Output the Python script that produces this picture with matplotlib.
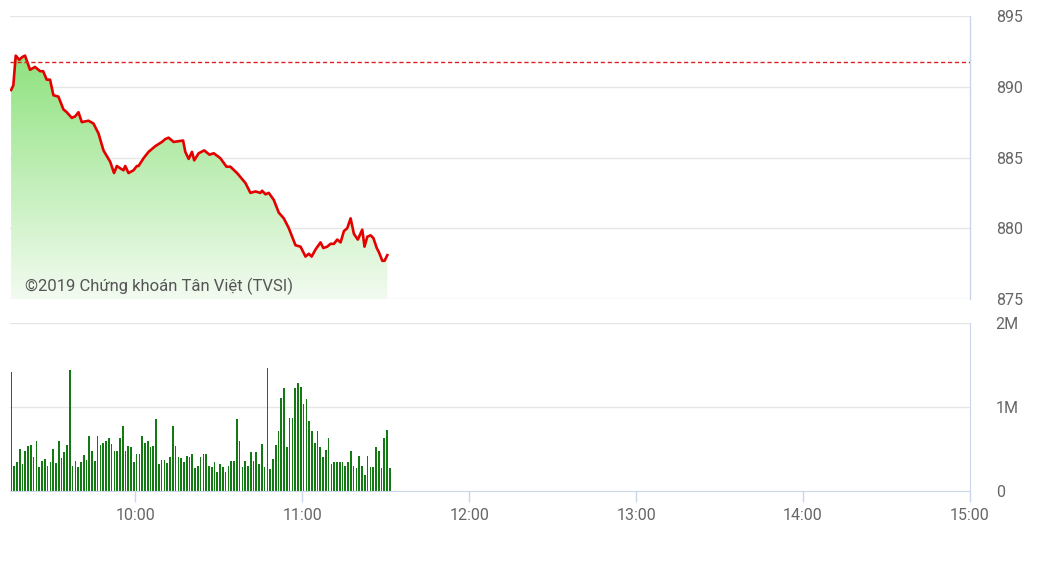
import matplotlib
matplotlib.use("Agg")
import matplotlib.pyplot as plt
import numpy as np
from matplotlib.colors import LinearSegmentedColormap

plt.rcParams["font.family"] = ["Roboto", "DejaVu Sans"]

# ---------------------------------------------------------------------------
# Data (minutes after 09:15)
# ---------------------------------------------------------------------------

price_minutes = [
    0.4, 1.2, 2.05, 3.35, 4.4, 5.4, 7.2, 9.0, 10.8, 11.9, 13.2, 14.4, 15.6,
    17.4, 19.2, 20.4, 22.2, 23.4, 24.6, 25.8, 28.2, 30.0, 31.8, 33.6, 36.0,
    37.4, 38.4, 39.9, 40.8, 41.4, 42.6, 44.4, 45.6, 46.2, 48.0, 49.8, 52.2,
    54.6, 55.8, 57.0, 58.8, 62.2, 63.0, 64.2, 65.4, 66.2, 67.8, 69.8, 71.7,
    73.2, 75.6, 77.8, 79.2, 81.6, 84.6, 86.4, 88.2, 90.0, 90.6, 91.8, 93.0,
    94.8, 96.6, 98.4, 100.2, 102.6, 104.4, 106.2, 107.4, 108.4, 109.8, 111.6,
    112.6, 114.0, 115.2, 116.4, 117.6, 118.8, 120.0, 121.2, 122.4, 123.6,
    125.0, 126.6, 127.4, 128.4, 129.6, 130.6, 131.8, 132.6, 133.8, 134.6,
    135.6,
]
price_values = [
    889.77, 890.1, 892.2, 891.9, 892.1, 892.2, 891.2, 891.4, 891.1, 891.1,
    890.5, 890.5, 889.4, 889.3, 888.4, 888.2, 887.8, 887.9, 888.2, 887.5,
    887.6, 887.4, 886.7, 885.5, 884.7, 883.9, 884.4, 884.2, 884.1, 884.4,
    883.9, 884.1, 884.4, 884.4, 884.95, 885.4, 885.8, 886.1, 886.3, 886.4,
    886.1, 886.2, 885.4, 884.9, 885.4, 884.8, 885.3, 885.5, 885.2, 885.3,
    884.95, 884.35, 884.35, 883.9, 883.2, 882.5, 882.6, 882.5, 882.65, 882.4,
    882.5, 882.0, 881.1, 880.7, 880.0, 878.8, 878.7, 878.0, 878.2, 878.0,
    878.5, 879.0, 878.6, 878.7, 878.9, 878.9, 879.2, 879.0, 879.8, 880.0,
    880.7, 879.6, 879.2, 879.9, 878.7, 879.4, 879.5, 879.3, 878.6, 878.3,
    877.7, 877.7, 878.1,
]
ref_price = 891.75

# volume per minute, in millions
volume_m = [
    1.42, 0.30, 0.34, 0.50, 0.32, 0.48, 0.53, 0.55, 0.40, 0.60, 0.29, 0.36,
    0.38, 0.30, 0.34, 0.50, 0.33, 0.59, 0.39, 0.47, 0.55, 1.44, 0.30, 0.36,
    0.29, 0.34, 0.43, 0.37, 0.65, 0.48, 0.36, 0.65, 0.55, 0.57, 0.59, 0.63,
    0.56, 0.48, 0.48, 0.63, 0.77, 0.48, 0.53, 0.52, 0.34, 0.44,
    0.44, 0.65, 0.57, 0.60, 0.52, 0.53, 0.86, 0.32, 0.37, 0.37, 0.33, 0.40,
    0.77, 0.53, 0.40, 0.39, 0.34, 0.42, 0.40, 0.44, 0.27, 0.30, 0.40, 0.44,
    0.44, 0.30, 0.29, 0.34, 0.23, 0.32, 0.29, 0.23, 0.30, 0.36, 0.36, 0.86,
    0.60, 0.29, 0.36, 0.30, 0.47, 0.36, 0.46, 0.32, 0.56, 0.29, 1.47,
    0.26, 0.38, 0.55, 0.71, 1.11, 1.23, 0.52, 0.87, 0.87, 1.23, 1.28, 1.24,
    1.04, 1.10, 0.83, 0.71, 0.57, 0.72, 0.52, 0.40, 0.49, 0.63, 0.32, 0.34,
    0.34, 0.34, 0.34, 0.30, 0.34, 0.48, 0.30, 0.27, 0.42, 0.30, 0.19, 0.42,
    0.29, 0.29, 0.52, 0.48, 0.27, 0.63, 0.73, 0.27,
]

hour_ticks = [10, 11, 12, 13, 14, 15]
hour_labels = ["10:00", "11:00", "12:00", "13:00", "14:00", "15:00"]
price_ticks = [875, 880, 885, 890, 895]
volume_ticks = [0, 1, 2]
volume_labels = ["0", "1M", "2M"]

START_HOUR = 9.25
GRID = "#e6e6e6"
AXIS = "#ccd6eb"
LABEL = "#666666"


def to_hour(minutes):
    return START_HOUR + np.asarray(minutes, dtype=float) / 60.0


# ---------------------------------------------------------------------------
# Figure
# ---------------------------------------------------------------------------

W, H = 1042, 585
fig = plt.figure(figsize=(W / 100, H / 100), dpi=100)
ax_p = fig.add_axes([10 / W, 1 - 299 / H, 960 / W, 283 / H])
ax_v = fig.add_axes([10 / W, 1 - 491 / H, 960 / W, 168 / H])

# --- price panel -----------------------------------------------------------
px = to_hour(price_minutes)
py = np.array(price_values)

ax_p.set_xlim(START_HOUR, 15)
ax_p.set_ylim(875, 895)

fill = ax_p.fill_between(px, py, 875, color="none", linewidth=0)
cmap = LinearSegmentedColormap.from_list("g", ["#f2fbf0", "#8fe27f"])
grad = np.linspace(0, 1, 256).reshape(-1, 1)
img = ax_p.imshow(grad, cmap=cmap, origin="lower", aspect="auto",
                  extent=[px[0], px[-1], 875, py.max()], zorder=1)
img.set_clip_path(fill.get_paths()[0], transform=ax_p.transData)

ax_p.plot(px, py, color="#e50000", linewidth=1.9, zorder=3,
          solid_joinstyle="round")
ax_p.axhline(ref_price, color="#e02020", linestyle=(0, (3, 2)),
             linewidth=1.0, zorder=3)

for t in price_ticks:
    ax_p.axhline(t, color=GRID, linewidth=1.0, zorder=0)

ax_p.text(15 / 960, 0.046, "©2019 Chứng khoán Tân Việt (TVSI)",
          transform=ax_p.transAxes, fontsize=12, color="#555555",
          va="center", ha="left", zorder=4)

ax_p.set_yticks(price_ticks)
ax_p.yaxis.tick_right()
ax_p.tick_params(axis="y", length=0, pad=18.5, labelsize=11.5, labelcolor=LABEL)
ax_p.set_xticks([])
for side in ("top", "left", "bottom"):
    ax_p.spines[side].set_visible(False)
ax_p.spines["right"].set_color(AXIS)
ax_p.spines["right"].set_linewidth(1.0)

# --- volume panel ----------------------------------------------------------
vx = to_hour(np.arange(len(volume_m)) + 0.5)
ax_v.bar(vx, volume_m, width=0.6 / 60, color="#137a13", linewidth=0, zorder=2)

ax_v.set_xlim(START_HOUR, 15)
ax_v.set_ylim(0, 2)
for t in volume_ticks[1:]:
    ax_v.axhline(t, color=GRID, linewidth=1.0, zorder=0)

ax_v.set_yticks(volume_ticks)
ax_v.set_yticklabels(volume_labels)
ax_v.yaxis.tick_right()
ax_v.tick_params(axis="y", length=0, pad=18.5, labelsize=11.5, labelcolor=LABEL)

ax_v.set_xticks(hour_ticks)
ax_v.set_xticklabels(hour_labels)
ax_v.tick_params(axis="x", length=8, width=1, color=AXIS, direction="out",
                 pad=4, labelsize=11.5, labelcolor=LABEL)
for side in ("top", "left"):
    ax_v.spines[side].set_visible(False)
ax_v.spines["bottom"].set_color(AXIS)
ax_v.spines["right"].set_color(AXIS)

fig.savefig("out.png", dpi=100, facecolor="white")
